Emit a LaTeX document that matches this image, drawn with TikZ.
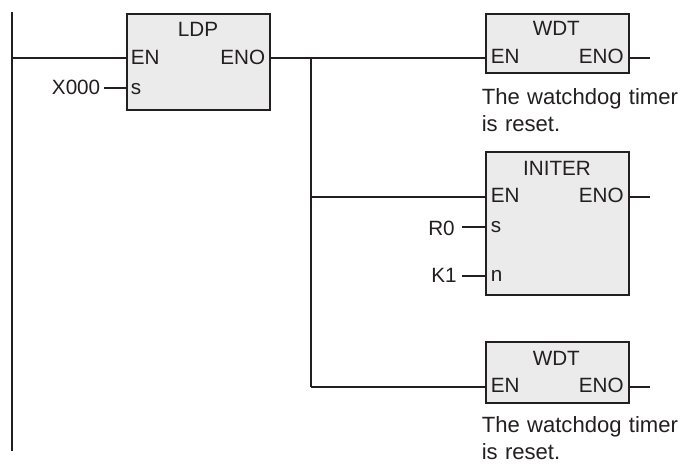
\documentclass[tikz,border=0pt]{standalone}
\usepackage{fontspec}
\setmainfont{Liberation Sans}
\definecolor{ink}{HTML}{231F20}
\definecolor{boxfill}{HTML}{EBEBEB}
\tikzset{
  px/.style={x=0.75pt,y=-0.75pt},
  fb/.style={draw=ink,fill=boxfill,line width=1.6pt,rectangle,inner sep=0pt,minimum width=107.5pt,anchor=north west},
  txt/.style={font=\fontsize{15.5pt}{20pt}\selectfont,text=ink,inner sep=0pt},
  port/.style={txt,anchor=base west},
  oport/.style={txt,anchor=base east},
  ttl/.style={txt,anchor=base},
  extl/.style={txt,anchor=base east},
  wire/.style={draw=ink,line width=1.5pt},
  note/.style={txt,font=\fontsize{16.55pt}{20.8pt}\selectfont,anchor=north west,align=left,text width=160pt}
}
\begin{document}
\begin{tikzpicture}[px]
\useasboundingbox (0,0) rectangle (682,465);
% boxes
\node[fb,minimum height=72pt] (ldp) at (126,13) {};
\node[fb,minimum height=44pt] (wdta) at (485,13) {};
\node[fb,minimum height=107pt] (initer) at (485,151) {};
\node[fb,minimum height=45.5pt] (wdtb) at (485,341) {};
% rail and junction coordinates
\coordinate (railtop) at (12,12);
\coordinate (railbot) at (12,451);
\coordinate (railrung) at (12,57.5);
\coordinate (jtop) at (311,57.5);
\coordinate (jmid) at (311,197);
\coordinate (jbot) at (311,387);
\coordinate (oa) at (650,57.5);
\coordinate (ob) at (650,197);
\coordinate (oc) at (650,387);
\draw[wire] (railtop) -- (railbot);
\draw[wire] (railrung) -- (railrung -| ldp.west);
\draw[wire] (jtop -| ldp.east) -- (jtop -| wdta.west);
\draw[wire] (jtop) -- (jbot);
\draw[wire] (jmid) -- (jmid -| initer.west);
\draw[wire] (jbot) -- (jbot -| wdtb.west);
\draw[wire] (oa -| wdta.east) -- (oa);
\draw[wire] (ob -| initer.east) -- (ob);
\draw[wire] (oc -| wdtb.east) -- (oc);
% LDP
\node[ttl] (t1) at (198,36) {LDP};
\node[port] (p1) at (130.5,64) {EN};
\node[oport] (p2) at (265.5,64) {ENO};
\node[port] (p3) at (130.5,94.7) {s};
\node[extl] (x0) at (100.5,94.7) {X000};
\coordinate (xs) at (104,88);
\draw[wire] (xs) -- (xs -| ldp.west);
% WDT 1
\node[ttl] (t2) at (556.3,35) {WDT};
\node[port] (p4) at (490.5,63.5) {EN};
\node[oport] (p5) at (624,63.5) {ENO};
\node[note] (n1) at (481.5,88) {The watchdog timer\\is reset.};
% INITER
\node[ttl] (t3) at (557,175) {INITER};
\node[port] (p6) at (490.5,202.5) {EN};
\node[oport] (p7) at (624,202.5) {ENO};
\node[port] (p8) at (490.5,232.7) {s};
\node[port] (p9) at (490.5,281.7) {n};
\node[extl] (r0) at (455,235) {R0};
\node[extl] (k1) at (457,282.3) {K1};
\coordinate (rs) at (462,226.5);
\coordinate (ks) at (462,276);
\draw[wire] (rs) -- (rs -| initer.west);
\draw[wire] (ks) -- (ks -| initer.west);
% WDT 2
\node[ttl] (t4) at (556.3,365) {WDT};
\node[port] (p10) at (490.5,392.7) {EN};
\node[oport] (p11) at (624,392.7) {ENO};
\node[note] (n2) at (481.5,416) {The watchdog timer\\is reset.};
\end{tikzpicture}
\end{document}
